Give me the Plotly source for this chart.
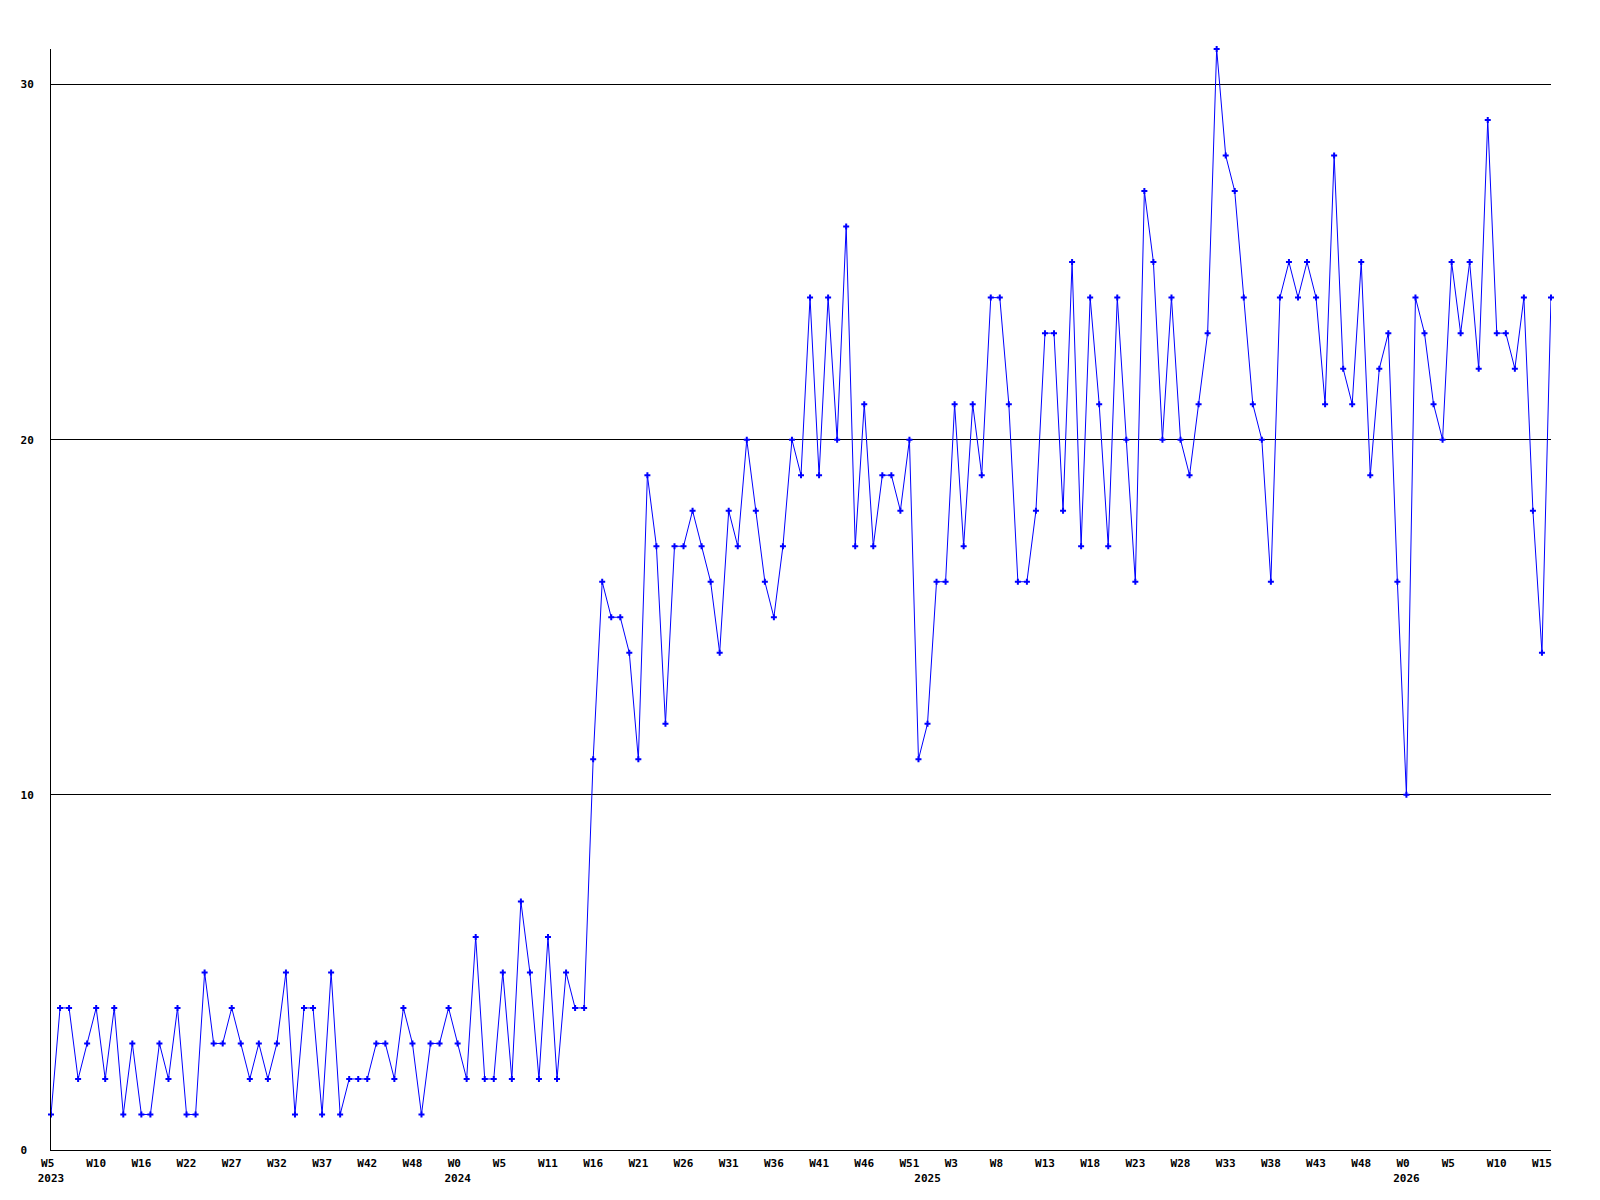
import plotly.graph_objects as go

# weekly values, 2023 W5 .. 2026 W15 (167 weeks)
values = [
    1, 4, 4, 2, 3, 4, 2, 4, 1, 3, 1, 1, 3, 2, 4, 1, 1, 5, 3, 3, 4, 3, 2, 3, 2, 3, 5, 1,
    4, 4, 1, 5, 1, 2, 2, 2, 3, 3, 2, 4, 3, 1, 3, 3, 4, 3, 2, 6, 2, 2, 5, 2, 7, 5, 2, 6, 2, 5, 4,
    4, 11, 16, 15, 15, 14, 11,
    19, 17, 12, 17, 17, 18, 17, 16, 14, 18, 17, 20, 18, 16, 15, 17, 20, 19, 24, 19,
    24, 20, 26, 17, 21, 17, 19, 19, 18, 20, 11, 12, 16, 16,
    21, 17, 21, 19, 24, 24, 21, 16, 16, 18, 23, 23, 18, 25, 17, 24, 21, 17, 24, 20,
    16, 27, 25, 20, 24, 20, 19, 21, 23, 31, 28, 27, 24, 21, 20, 16, 24, 25, 24, 25,
    24, 21, 28, 22, 21, 25, 19, 22, 23, 16, 10, 24, 23, 21, 20, 25, 23, 25, 22, 29,
    23, 23, 22, 24, 18, 14, 24,
]
week_index = list(range(len(values)))

# tick labels every 5th week
week_labels = ["W5", "W10", "W16", "W22", "W27", "W32", "W37", "W42", "W48",
               "W0", "W5", "W11", "W16", "W21", "W26", "W31", "W36", "W41", "W46", "W51",
               "W3", "W8", "W13", "W18", "W23", "W28", "W33", "W38", "W43", "W48",
               "W0", "W5", "W10", "W15"]
week_label_pos = list(range(0, len(values), 5))
years = {0: "2023", 45: "2024", 97: "2025", 150: "2026"}

y_ticks = [0, 10, 20, 30]
y_labels = ["0\u00a0", "10", "20", "30"]

NB = "\u00a0"
tickvals, ticktext = [], []
for pos, lab in zip(week_label_pos, week_labels):
    t = lab + (NB if len(lab) == 2 else "")
    if pos in years:
        t = t + "<br>" + years[pos]
    tickvals.append(pos)
    ticktext.append(t)
for pos, yr in years.items():
    if pos not in week_label_pos:
        tickvals.append(pos)
        ticktext.append(NB + "<br>" + yr)

font = dict(family="DejaVu Sans Mono", size=11, color="black")

fig = go.Figure(
    go.Scatter(
        x=week_index, y=values, mode="lines+markers",
        line=dict(color="#0000ff", width=1),
        marker=dict(color="#0000ff", symbol="cross", size=5, line=dict(width=0)),
        cliponaxis=False,
        showlegend=False,
    )
)

fig.update_layout(
    width=1584, height=1184,
    margin=dict(l=43, r=41, t=41, b=42),
    paper_bgcolor="white", plot_bgcolor="white",
    font=font,
)
fig.update_xaxes(
    range=[0, len(values) - 1], tickvals=tickvals, ticktext=ticktext,
    showgrid=False, zeroline=False, showline=True, linecolor="black", linewidth=1,
    ticks="", tickfont=dict(family="DejaVu Sans Mono", size=11, color="black", weight="bold"),
    ticklabelstandoff=3, automargin=False,
)
fig.update_yaxes(
    range=[0, 31], tickvals=y_ticks, ticktext=y_labels,
    showgrid=True, gridcolor="black", gridwidth=1,
    zeroline=False, showline=True, linecolor="black", linewidth=1,
    ticks="", tickfont=dict(family="DejaVu Sans Mono", size=11, color="black", weight="bold"),
    ticklabelstandoff=14, automargin=False,
)

fig.write_html("out.html")
